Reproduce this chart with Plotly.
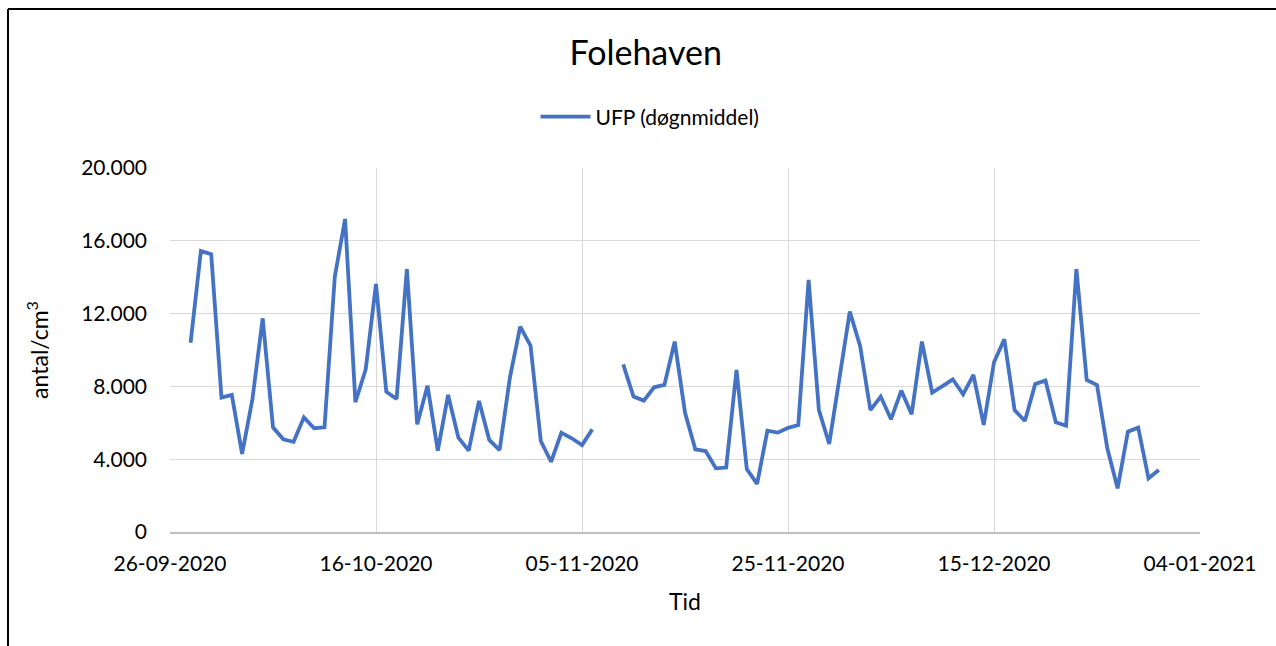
import datetime as dt
import plotly.graph_objects as go

start_date = "2020-09-28"
ufp_values = [
    10400, 15440, 15260, 7380, 7530, 4290, 7290, 11740, 5750, 5090,
    4960, 6300, 5700, 5750, 14030, 17200, 7130, 8940, 13630, 7710,
    7310, 14450, 5920, 8040, 4470, 7530, 5180, 4470, 7200, 5060,
    4500, 8480, 11280, 10240, 5000, 3860, 5460, 5150, 4780, 5640,
    None, None,
    9210, 7440, 7220, 7950, 8080, 10460, 6560, 4540, 4450, 3500,
    3540, 8900, 3460, 2640, 5570, 5460, 5720, 5880, 13850, 6700,
    4840, 8630, 12110, 10220, 6700, 7440, 6190, 7770, 6470, 10460,
    7660, 8020, 8390, 7560, 8630, 5880, 9330, 10590, 6700, 6100,
    8130, 8320, 6030, 5840, 14450, 8350, 8080, 4600, 2400, 5510,
    5730, 2950, 3410,
]
tick_dates = ["2020-09-26", "2020-10-16", "2020-11-05", "2020-11-25", "2020-12-15", "2021-01-04"]
tick_labels = ["26-09-2020", "16-10-2020", "05-11-2020", "25-11-2020", "15-12-2020", "04-01-2021"]
y_ticks = [0, 4000, 8000, 12000, 16000, 20000]

d0 = dt.date.fromisoformat(start_date)
dates = [d0 + dt.timedelta(days=i) for i in range(len(ufp_values))]

FONT = "Lato, Calibri, sans-serif"

fig = go.Figure()
fig.add_trace(go.Scatter(
    x=dates, y=ufp_values, mode="lines", name="UFP (døgnmiddel)",
    line=dict(color="#4472C4", width=3.8), connectgaps=False,
))

L, R, T, B = 170, 76, 168, 114
W, H = 1276, 646
pw, ph = W - L - R, H - T - B

def px_x(p):
    return (p - L) / pw

def px_y(p):
    return (H - B - p) / ph

fig.update_layout(
    width=W, height=H,
    margin=dict(l=L, r=R, t=T, b=B),
    paper_bgcolor="white", plot_bgcolor="white",
    separators=",.",
    font=dict(family=FONT, color="#000000", size=20),
    title=dict(text="Folehaven", x=0.506, xref="container", xanchor="center",
               y=1 - 53 / H, yref="container", yanchor="middle",
               font=dict(size=34, family=FONT, color="#000000")),
    showlegend=True,
    legend=dict(orientation="h", x=px_x(650), xref="paper", xanchor="center",
                y=px_y(117), yanchor="middle", font=dict(size=21, family=FONT),
                bgcolor="rgba(0,0,0,0)", itemwidth=50),
    xaxis=dict(
        range=[tick_dates[0], tick_dates[-1]],
        tickvals=tick_dates, ticktext=tick_labels,
        showgrid=True, gridcolor="#D9D9D9", gridwidth=1,
        showline=True, linecolor="#BFBFBF", linewidth=1.5,
        zeroline=False, ticks="", ticklabelstandoff=12,
        tickfont=dict(size=21, family=FONT),
        title=dict(text="Tid", font=dict(size=23, family=FONT), standoff=20),
    ),
    yaxis=dict(
        range=[0, 20000], tickvals=y_ticks, tickformat=",d",
        showgrid=True, gridcolor="#D9D9D9", gridwidth=1,
        showline=False, zeroline=False, ticks="", ticklabelstandoff=22,
        tickfont=dict(size=21, family=FONT),
        title=dict(text="antal/cm<sup>3</sup>", font=dict(size=23, family=FONT), standoff=26),
    ),
    shapes=[
        dict(type="line", xref="paper", yref="paper",
             x0=px_x(8), x1=px_x(W + 5), y0=px_y(9), y1=px_y(9),
             line=dict(color="#000000", width=2)),
        dict(type="line", xref="paper", yref="paper",
             x0=px_x(8), x1=px_x(8), y0=px_y(9), y1=px_y(H + 5),
             line=dict(color="#000000", width=2)),
    ],
)

fig.write_html("out.html", config={"displayModeBar": False},
               post_script="document.body.style.margin='0px';")
